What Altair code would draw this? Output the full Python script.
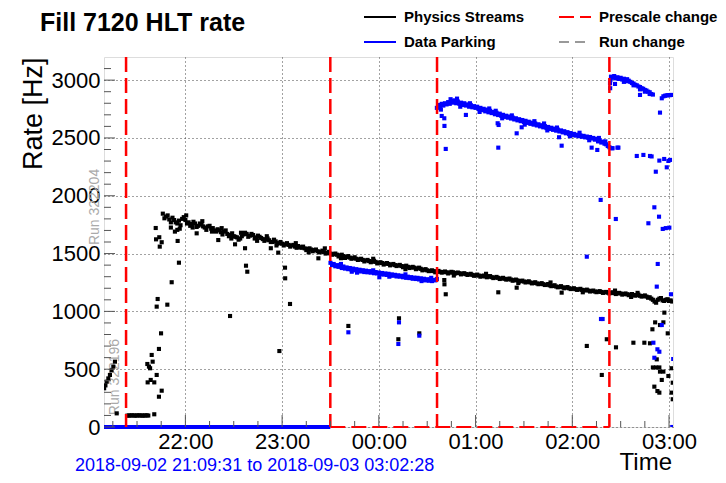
import altair as alt
import pandas as pd

# ---------------- data (time = minutes after 2018-09-02 21:00:00) ----------------
t_start, t_end = 9.517, 362.467          # 21:09:31 .. 03:02:28
start_label = "2018-09-02 21:09:31"
end_label = "2018-09-03 03:02:28"

prescale_t = [23.2, 149.9, 216.1, 323.0]

# Physics Streams main band, even minutes 46..362
phys_even_v = [
    1845, 1820, 1795, 1810, 1770, 1785, 1800, 1790, 1770, 1755,
    1760, 1740, 1750, 1725, 1735, 1715, 1700, 1710, 1685, 1690,
    1670, 1660, 1650, 1640, 1630, 1665, 1670, 1655, 1660, 1640,
    1645, 1625, 1620, 1615, 1600, 1605, 1590, 1585, 1580, 1575,
    1570, 1560, 1565, 1550, 1545, 1540, 1535, 1530, 1520, 1515,
    1512, 1505, 1500, 1495, 1490, 1485, 1478, 1470, 1465, 1460,
    1455, 1450, 1445, 1440, 1435, 1430, 1428, 1420, 1418, 1412,
    1410, 1405, 1400, 1398, 1392, 1390, 1385, 1380, 1378, 1372,
    1368, 1360, 1355, 1350, 1348, 1345, 1342, 1340, 1338, 1335,
    1338, 1332, 1330, 1326, 1322, 1320, 1316, 1312, 1310, 1305,
    1302, 1300, 1296, 1292, 1290, 1285, 1282, 1278, 1275, 1270,
    1268, 1262, 1258, 1255, 1250, 1246, 1242, 1238, 1235, 1230,
    1225, 1220, 1215, 1212, 1208, 1205, 1200, 1196, 1192, 1190,
    1186, 1183, 1180, 1176, 1172, 1170, 1168, 1165, 1162, 1160,
    1158, 1156, 1155, 1150, 1148, 1145, 1142, 1140, 1135, 1132,
    1128, 1122, 1100, 1075, 1110, 1095, 1100, 1090, 1085,
]
# Physics Streams main band, odd minutes 47..361
phys_odd_v = [
    1805, 1830, 1770, 1790, 1760, 1745, 1815, 1760, 1740, 1775,
    1730, 1760, 1735, 1705, 1740, 1720, 1690, 1700, 1665, 1700,
    1650, 1675, 1645, 1620, 1650, 1680, 1645, 1670, 1630, 1655,
    1635, 1610, 1630, 1600, 1620, 1585, 1600, 1570, 1590, 1560,
    1575, 1550, 1555, 1560, 1530, 1545, 1520, 1535, 1510, 1525,
    1500, 1515, 1490, 1500, 1475, 1490, 1462, 1478, 1455, 1468,
    1445, 1455, 1432, 1445, 1425, 1438, 1415, 1425, 1405, 1418,
    1398, 1410, 1392, 1402, 1382, 1395, 1375, 1385, 1365, 1378,
    1355, 1365, 1348, 1355, 1338, 1350, 1335, 1345, 1328, 1342,
    1325, 1336, 1320, 1330, 1315, 1325, 1308, 1318, 1300, 1310,
    1295, 1305, 1288, 1298, 1280, 1290, 1275, 1284, 1265, 1275,
    1258, 1266, 1250, 1260, 1242, 1252, 1235, 1244, 1228, 1236,
    1218, 1226, 1208, 1218, 1200, 1210, 1193, 1200, 1186, 1195,
    1180, 1188, 1172, 1180, 1166, 1175, 1160, 1168, 1155, 1165,
    1150, 1160, 1145, 1155, 1140, 1150, 1136, 1145, 1128, 1138,
    1118, 1110, 1085, 1100, 1115, 1090, 1105, 1095,
]
# Physics Streams: start of fill, low-rate period, band scatter and outliers (t, rate)
phys_extra = [
    (9.6, 335), (10.4, 360), (11.2, 392), (12.2, 420), (13.2, 450), (14.2, 490),
    (15.3, 522), (16.3, 565), (17.4, 118),
    (24, 98), (25, 100), (26, 99), (27, 101), (28, 100), (29, 98), (30, 100),
    (31, 101), (32, 99), (33, 100), (34, 98), (35, 100), (36, 101), (37, 99),
    (40.7, 110), (36.4, 545), (37.4, 522), (38.1, 508), (36.6, 386), (38.5, 407),
    (40.7, 386), (39.1, 623), (39.7, 565), (42.2, 450), (43.6, 262), (45.3, 314),
    (43.6, 675), (44.9, 810), (42.2, 1041), (42.8, 1107), (48.8, 1058), (51.5, 1252),
    (56.0, 1421), (41.6, 1721), (41.8, 1623), (43.8, 1641), (45.3, 1598), (44.1, 1560),
    (55.2, 1609), (53.5, 1690), (55.0, 1705), (56.5, 1715), (51.0, 1725),
    (60.5, 1830), (64.5, 1725), (70.5, 1780), (76.5, 1690), (82.5, 1720), (88.5, 1630),
    (94.5, 1680), (104.5, 1610), (110.5, 1650), (116.5, 1570), (128.5, 1590),
    (136.5, 1510), (146.5, 1545), (156.5, 1460), (176.5, 1455), (196.5, 1365),
    (226.5, 1310), (246.5, 1325), (266.5, 1245), (286.5, 1250), (306.5, 1165),
    (326.5, 1180), (336.5, 1125), (340.5, 1160),
    (67, 1675), (80.4, 1617), (90.8, 1580), (97, 1546), (97.6, 1395), (98.4, 1343),
    (87.7, 960), (113, 1546), (117.6, 1508), (121.8, 1378), (121.9, 1286), (124.9, 1064),
    (118.3, 657), (142.5, 1459),
    (161.1, 874), (192.5, 940), (192.1, 759), (205.1, 810), (220.6, 1271), (220.7, 1234),
    (221.5, 1148), (254.1, 1165), (265.5, 1205), (293.4, 1162), (309, 701), (321.4, 759),
    (327.1, 689), (318.3, 450), (337.9, 729), (344.7, 729), (348.2, 724), (349.7, 845),
    (351.4, 905), (354.4, 882), (356.5, 905), (357.1, 989), (359.2, 810), (352.4, 585),
    (350, 515), (352, 515), (354, 515), (354.4, 479), (356.5, 479), (355.5, 407),
    (350.9, 349), (352.8, 311), (354, 297), (359.6, 441), (361.6, 508), (362.3, 383),
    (361.6, 297), (362.3, 240),
]

# Data Parking, 23:30 - 00:35, every minute 150..216
park1_v = [
    1420, 1400, 1410, 1390, 1400, 1385, 1395, 1375, 1388, 1370,
    1380, 1365, 1375, 1362, 1370, 1355, 1365, 1350, 1360, 1345,
    1356, 1340, 1352, 1338, 1348, 1335, 1345, 1330, 1340, 1328,
    1336, 1322, 1332, 1318, 1328, 1315, 1325, 1310, 1320, 1308,
    1316, 1302, 1312, 1300, 1308, 1295, 1305, 1290, 1300, 1288,
    1296, 1282, 1292, 1280, 1290, 1276, 1286, 1272, 1282, 1268,
    1278, 1265, 1275, 1262, 1272, 1268, 1280,
]
# Data Parking, 00:35 - 02:23, every minute 216..323
park2_v = [
    2760, 2785, 2770, 2795, 2780, 2800, 2790, 2810, 2795, 2820,
    2805, 2825, 2800, 2815, 2795, 2805, 2785, 2800, 2780, 2790,
    2770, 2785, 2765, 2775, 2760, 2770, 2750, 2760, 2740, 2752,
    2730, 2745, 2722, 2735, 2715, 2725, 2705, 2718, 2698, 2710,
    2690, 2700, 2682, 2692, 2675, 2685, 2668, 2676, 2660, 2670,
    2652, 2662, 2645, 2655, 2638, 2648, 2630, 2640, 2622, 2632,
    2615, 2625, 2608, 2618, 2600, 2610, 2592, 2602, 2585, 2595,
    2578, 2588, 2570, 2580, 2563, 2572, 2556, 2565, 2548, 2558,
    2540, 2550, 2533, 2542, 2526, 2535, 2520, 2528, 2515, 2522,
    2510, 2518, 2505, 2512, 2500, 2508, 2495, 2500, 2485, 2492,
    2470, 2478, 2460, 2468, 2450, 2445, 2430, 2420,
]
# Data Parking after 02:23, band scatter and all outliers (t, rate)
park_extra = [
    (323.6, 3000), (324, 3030), (325, 3020), (326, 3035), (327, 3015), (328, 3025),
    (329, 3010), (330, 3020), (331, 3005), (332, 3012), (333, 3000), (334, 3008),
    (335, 2995), (336, 2985), (337, 2975), (338, 2970), (339, 2960), (340, 2955),
    (341, 2945), (342, 2940), (343, 2930), (344, 2925), (345, 2915), (346, 2910),
    (347, 2900), (348, 2895), (349, 2880), (350, 2875), (356.5, 2860), (357.5, 2865),
    (358.5, 2868), (359.5, 2870), (360.5, 2870), (361.5, 2872),
    (332, 2985), (334, 2990), (338, 2955), (342, 2920), (345, 2900), (348, 2880),
    (156.5, 1410), (166.5, 1335), (176.5, 1355), (186.5, 1300), (196.5, 1320),
    (206.5, 1262), (212.5, 1290),
    (218.5, 2745), (224.5, 2835), (228.5, 2840), (230.5, 2770), (236.5, 2800),
    (242.5, 2725), (248.5, 2755), (252.5, 2735), (256.5, 2670), (262.5, 2695),
    (270.5, 2615), (276.5, 2645), (282.5, 2625), (284.5, 2565), (290.5, 2590),
    (298.5, 2515), (304.5, 2545), (310.5, 2480), (316.5, 2500), (320.5, 2470),
    (161.1, 819), (163.2, 1343), (180.3, 1295), (192.5, 905), (192.1, 718), (205.1, 790),
    (219, 2690), (220.6, 2670), (220.7, 2604), (221.5, 2405), (234, 2699), (253.7, 2627),
    (254.1, 2416), (254.3, 2612), (265.5, 2540), (268.6, 2592), (291.8, 2506),
    (293.4, 2433), (312, 2416), (315.5, 2396), (317.6, 1964), (309, 1473), (317.8, 934),
    (318.8, 934), (325, 2411), (328.6, 2416),
    (323.4, 2973), (323.5, 2930), (326.5, 2967), (342, 2872), (354.4, 2719), (355.5, 2843),
    (324.5, 2411), (328, 2416), (340, 2344), (344.1, 2353), (348.2, 2344), (349.2, 2340),
    (351.8, 2208), (354, 2304), (357, 2318), (358.6, 2246), (359.6, 2301), (360.6, 2310),
    (327, 1799), (347.2, 1762), (350.9, 1900), (353.8, 1819), (356.1, 1713), (358, 1720),
    (360.2, 1724), (353, 1410), (352.4, 1214), (361.2, 1148), (355.5, 882), (350.3, 729),
    (352.8, 672), (354, 651), (350.9, 599), (362.6, 588), (362, 0),
]
# Data Parking was 0 Hz from the start of the fill until the 23:30 prescale change
park_zero_span = [(t_start, 149.9)]
# prescale-change baseline segment at 0 Hz
prescale_base_span = [(149.9, 323.0)]

run_labels = ["Run 322204", "Run 322196"]
run_label_t = [3.9, 16.3]
run_label_v = [1903, 432]

legend_kinds = ["Physics Streams", "Data Parking", "Prescale change", "Run change"]
legend_colors = ["#000000", "#0000ff", "#ff0000", "#999999"]
legend_dashes = [[1, 0], [1, 0], [15, 6], [10, 6]]

hour_ticks = [60, 120, 180, 240, 300, 360]
quarter_ticks = [15, 30, 45, 75, 90, 105, 135, 150, 165, 195, 210, 225,
                 255, 270, 285, 315, 330, 345]
rate_ticks = [0, 500, 1000, 1500, 2000, 2500, 3000]
rate_minor = [100, 200, 300, 400, 600, 700, 800, 900, 1100, 1200, 1300, 1400,
              1600, 1700, 1800, 1900, 2100, 2200, 2300, 2400, 2600, 2700, 2800,
              2900, 3100]

title_text = "Fill 7120 HLT rate"
x_title = "Time"

# ---------------- tables ----------------
phys_df = pd.DataFrame(
    {"t": list(range(46, 363, 2)) + list(range(47, 362, 2)) + [p[0] for p in phys_extra],
     "v": phys_even_v + phys_odd_v + [p[1] for p in phys_extra]})
park_df = pd.DataFrame(
    {"t": list(range(150, 217)) + list(range(216, 324)) + [p[0] for p in park_extra],
     "v": park1_v + park2_v + [p[1] for p in park_extra]})
zero_df = pd.DataFrame({"t": [s[0] for s in park_zero_span], "t2": [s[1] for s in park_zero_span], "v": [0]})
base_df = pd.DataFrame({"t": [s[0] for s in prescale_base_span], "t2": [s[1] for s in prescale_base_span], "v": [0]})
pres_df = pd.DataFrame({"t": prescale_t, "kind": ["Prescale change"] * len(prescale_t)})
run_df = pd.DataFrame({"t": run_label_t, "v": run_label_v, "label": run_labels})
xmaj_df = pd.DataFrame({"t": hour_ticks})
xmin_df = pd.DataFrame({"t": quarter_ticks})
ymaj_df = pd.DataFrame({"v": rate_ticks})
ymin_df = pd.DataFrame({"v": rate_minor})
one_df = pd.DataFrame({"txt": [start_label + " to " + end_label], "title": [title_text], "xt": [x_title]})

# ---------------- encodings ----------------
W, H = 569, 370
FONT = "Liberation Sans"
xs = alt.Scale(domain=[t_start, t_end], nice=False, zero=False)
ys = alt.Scale(domain=[0, 3200], nice=False, zero=False)

hour_expr = ("(((21 + floor(datum.value / 60)) % 24) < 10 ? '0' : '') + "
             "((21 + floor(datum.value / 60)) % 24) + ':00'")

x_axis = alt.Axis(values=hour_ticks, labelExpr=hour_expr, title=None,
                  labelFont=FONT, labelFontSize=22, labelColor="black",
                  labelPadding=4, labelFlush=False, labelOverlap=False,
                  ticks=False, domain=False, grid=True, gridColor="#444444",
                  gridDash=[1, 3], gridWidth=1)
y_axis = alt.Axis(values=rate_ticks, format="d", title="Rate [Hz]",
                  titleAnchor="end", titleFont=FONT, titleFontSize=27,
                  titleFontWeight="normal", titleColor="black", titlePadding=4,
                  labelFont=FONT, labelFontSize=22, labelColor="black",
                  labelPadding=4, labelFlush=False, labelOverlap=False,
                  ticks=False, domain=False, grid=True, gridColor="#444444",
                  gridDash=[1, 3], gridWidth=1)

X = alt.X("t:Q", scale=xs, axis=x_axis)
Y = alt.Y("v:Q", scale=ys, axis=y_axis)

legend = alt.Legend(orient="none", legendX=259, legendY=-57, columns=2,
                    columnPadding=30, rowPadding=-6, symbolType="stroke",
                    symbolSize=1024, symbolStrokeWidth=2, labelFont=FONT,
                    labelFontSize=15, labelFontWeight="bold", labelColor="black",
                    labelOffset=7, title=None, padding=0)

SQ = 17
phys_points = alt.Chart(phys_df).mark_square(size=SQ, color="black", opacity=1, clip=True).encode(x=X, y=Y)
park_points = alt.Chart(park_df).mark_square(size=SQ, color="#0000ff", opacity=1, clip=True).encode(x=X, y=Y)

zero_rule = alt.Chart(zero_df).mark_rule(color="#0000ff", strokeWidth=4).encode(
    x=X, x2=alt.X2("t2:Q"), y=Y)
base_rule = alt.Chart(base_df).mark_rule(color="#ff0000", strokeWidth=2, strokeDash=[15, 6]).encode(
    x=X, x2=alt.X2("t2:Q"), y=Y)

pres_rules = alt.Chart(pres_df).mark_rule(strokeWidth=2.5).encode(
    x=X,
    color=alt.Color("kind:N", scale=alt.Scale(domain=legend_kinds, range=legend_colors), legend=legend),
    strokeDash=alt.StrokeDash("kind:N", scale=alt.Scale(domain=legend_kinds, range=legend_dashes), legend=legend),
)

run_text = alt.Chart(run_df).mark_text(angle=270, color="#aaaaaa", font=FONT, fontSize=14).encode(
    x=X, y=Y, text="label:N")

xmaj = alt.Chart(xmaj_df).mark_rule(color="#555555", strokeWidth=1).encode(
    x=X, y=alt.value(H), y2=alt.value(H - 12))
xmin = alt.Chart(xmin_df).mark_rule(color="#555555", strokeWidth=1).encode(
    x=X, y=alt.value(H), y2=alt.value(H - 6))
ymaj = alt.Chart(ymaj_df).mark_rule(color="#555555", strokeWidth=1).encode(
    y=Y, x=alt.value(0), x2=alt.value(11))
ymin = alt.Chart(ymin_df).mark_rule(color="#555555", strokeWidth=1).encode(
    y=Y, x=alt.value(0), x2=alt.value(7))

note = alt.Chart(one_df).mark_text(align="left", baseline="alphabetic", color="#0000ff",
                                   font=FONT, fontSize=18).encode(
    x=alt.value(-29), y=alt.value(H + 44), text="txt:N")
xtitle = alt.Chart(one_df).mark_text(align="right", baseline="alphabetic", color="black",
                                     font=FONT, fontSize=24).encode(
    x=alt.value(W - 1), y=alt.value(H + 43), text="xt:N")
title = alt.Chart(one_df).mark_text(align="left", baseline="alphabetic", color="black",
                                    font=FONT, fontSize=25, fontWeight="bold").encode(
    x=alt.value(-64), y=alt.value(-26), text="title:N")

chart = alt.layer(
    run_text, zero_rule, phys_points, park_points, base_rule, pres_rules,
    xmaj, xmin, ymaj, ymin, note, xtitle, title,
).properties(
    width=W, height=H,
    autosize=alt.AutoSizeParams(type="none"),
    padding={"left": 96, "top": 49, "right": 45, "bottom": 48},
).configure_view(stroke="#6e6e6e", strokeWidth=1.5).configure(background="white")

chart.save("out.html", embed_options={"renderer": "svg", "actions": False})
